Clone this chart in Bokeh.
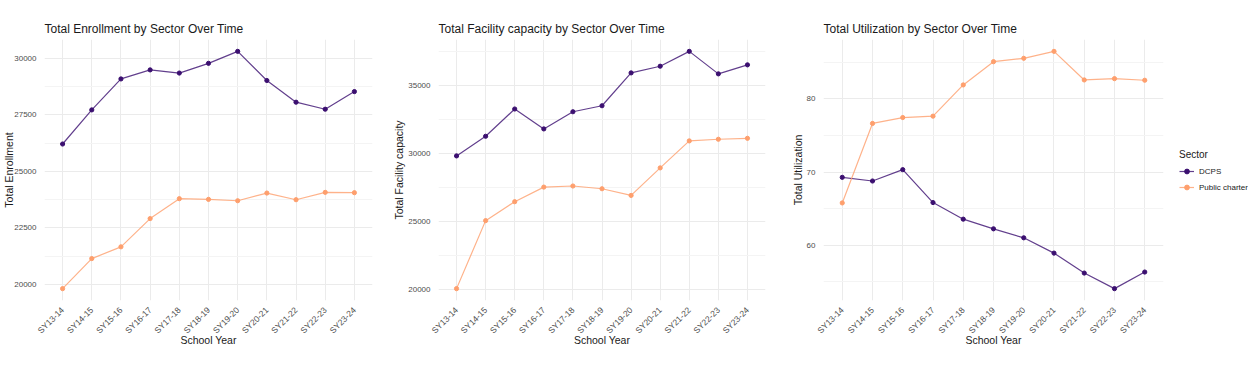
import math
from bokeh.plotting import figure
from bokeh.models import (ColumnDataSource, Range1d, FixedTicker, Legend, LegendItem)
from bokeh.layouts import row
from bokeh.embed import file_html
from bokeh.resources import INLINE

years = ["SY13-14", "SY14-15", "SY15-16", "SY16-17", "SY17-18", "SY18-19",
         "SY19-20", "SY20-21", "SY21-22", "SY22-23", "SY23-24"]

enroll_dcps = [26210, 27720, 29090, 29490, 29350, 29780, 30310, 29020, 28060, 27750, 28530]
enroll_charter = [19810, 21140, 21660, 22910, 23790, 23760, 23700, 24040, 23745, 24070, 24055]

cap_dcps = [29810, 31250, 33250, 31790, 33050, 33490, 35900, 36390, 37480, 35830, 36490]
cap_charter = [20070, 25060, 26450, 27520, 27600, 27400, 26910, 28930, 30910, 31030, 31100]

util_dcps = [69.27, 68.77, 70.32, 65.82, 63.55, 62.23, 61.00, 58.91, 56.18, 54.05, 56.32]
util_charter = [65.77, 76.64, 77.45, 77.64, 81.91, 85.09, 85.55, 86.50, 82.59, 82.77, 82.55]

enroll_ticks = [20000, 22500, 25000, 27500, 30000]
cap_ticks = [20000, 25000, 30000, 35000]
util_ticks = [60, 70, 80]

sectors = ["DCPS", "Public charter"]
DCPS_COL = "#3b0f70"
CHARTER_COL = "#fe9f6d"
colors = [DCPS_COL, CHARTER_COL]

FONT = "Liberation Sans"
LINE_W = 1.2
LINE_A = 0.8
PT_SIZE = 4.2


def make_panel(title, ylabel, dcps, charter, ticks, left, frame_w, right, ylab_standoff=0):
    lo = min(dcps + charter)
    hi = max(dcps + charter)
    pad = 0.05 * (hi - lo)
    n = len(years)
    xs = list(range(n))
    step = ticks[1] - ticks[0]
    minor = [t - step / 2 for t in ticks] + [ticks[-1] + step / 2]

    p = figure(output_backend="svg", toolbar_location=None,
               frame_width=frame_w, frame_height=261,
               min_border_left=left, min_border_right=right,
               min_border_top=39, min_border_bottom=5,
               x_range=Range1d(-0.62, n - 1 + 0.62),
               y_range=Range1d(lo - pad, hi + pad),
               title=title)
    p.outline_line_color = None
    p.background_fill_color = "white"
    p.border_fill_color = "white"

    p.title.text_font = FONT
    p.title.text_font_size = "12px"
    p.title.text_font_style = "normal"
    p.title.text_color = "#1a1a1a"
    p.title.offset = 0
    p.title.standoff = 7

    p.xaxis.ticker = FixedTicker(ticks=xs)
    p.xaxis.major_label_overrides = {i: y for i, y in enumerate(years)}
    p.xaxis.major_label_orientation = math.pi / 4
    p.yaxis.ticker = FixedTicker(ticks=ticks, minor_ticks=minor)
    p.ygrid.ticker = FixedTicker(ticks=ticks, minor_ticks=minor)
    p.xgrid.ticker = FixedTicker(ticks=xs)

    for ax in (p.xaxis, p.yaxis):
        ax.axis_line_color = None
        ax.major_tick_line_color = None
        ax.minor_tick_line_color = None
        ax.major_label_text_font = FONT
        ax.major_label_text_color = "#4d4d4d"
        ax.major_label_standoff = 2
        ax.axis_label_text_font = FONT
        ax.axis_label_text_font_size = "10.5px"
        ax.axis_label_text_font_style = "normal"
        ax.axis_label_text_color = "#1a1a1a"
    p.yaxis.axis_label_standoff = ylab_standoff
    p.xaxis.axis_label_standoff = -8
    p.xaxis.major_label_text_font_size = "8.5px"
    p.yaxis.major_label_text_font_size = "8px"
    p.xaxis.axis_label = "School Year"
    p.yaxis.axis_label = ylabel

    for g in (p.xgrid, p.ygrid):
        g.grid_line_color = "#ebebeb"
        g.grid_line_width = 1
    p.ygrid.minor_grid_line_color = "#f4f4f4"
    p.ygrid.minor_grid_line_width = 1

    for vals, col in ((dcps, colors[0]), (charter, colors[1])):
        src = ColumnDataSource(dict(x=xs, y=vals))
        p.line("x", "y", source=src, line_color=col, line_width=LINE_W, line_alpha=LINE_A)
        p.scatter("x", "y", source=src, size=PT_SIZE, fill_color=col, line_color=col)
    return p


def make_legend_fig():
    q = figure(output_backend="svg", toolbar_location=None,
               frame_width=80, frame_height=261,
               min_border_left=0, min_border_right=0,
               min_border_top=39, min_border_bottom=5,
               x_range=Range1d(0, 1), y_range=Range1d(0, 1))
    q.axis.visible = False
    q.grid.visible = False
    q.outline_line_color = None
    q.border_fill_color = "white"
    items = []
    for name, col in zip(sectors, colors):
        # placeholder renderers kept outside the visible range; only their legend glyph shows
        src = ColumnDataSource(dict(x=[-5, -4], y=[-5, -4]))
        ln = q.line("x", "y", source=src, line_color=col, line_width=LINE_W, line_alpha=LINE_A)
        sc = q.scatter("x", "y", source=src, size=PT_SIZE, fill_color=col, line_color=col)
        items.append(LegendItem(label=name, renderers=[ln, sc]))
    lg = Legend(items=items, title="Sector", location=(11, 107))
    lg.title_text_font = FONT
    lg.title_text_font_size = "10px"
    lg.title_text_font_style = "normal"
    lg.title_text_color = "#1a1a1a"
    lg.title_standoff = 5
    lg.label_text_font = FONT
    lg.label_text_font_size = "8px"
    lg.label_text_color = "#1a1a1a"
    lg.glyph_width = 15
    lg.glyph_height = 12
    lg.label_standoff = 5
    lg.label_height = 12
    lg.spacing = 4
    lg.padding = 2
    lg.margin = 0
    lg.border_line_color = None
    lg.background_fill_alpha = 0
    q.add_layout(lg, "center")
    return q


p1 = make_panel("Total Enrollment by Sector Over Time", "Total Enrollment",
                enroll_dcps, enroll_charter, enroll_ticks, 36, 328, 18, ylab_standoff=-4)
p2 = make_panel("Total Facility capacity by Sector Over Time", "Total Facility capacity",
                cap_dcps, cap_charter, cap_ticks, 45, 327, 23)
p3 = make_panel("Total Utilization by Sector Over Time", "Total Utilization",
                util_dcps, util_charter, util_ticks, 32, 340, 5)
pl = make_legend_fig()

layout = row(p1, p2, p3, pl, spacing=0)
open("out.html", "w").write(file_html(layout, INLINE))
